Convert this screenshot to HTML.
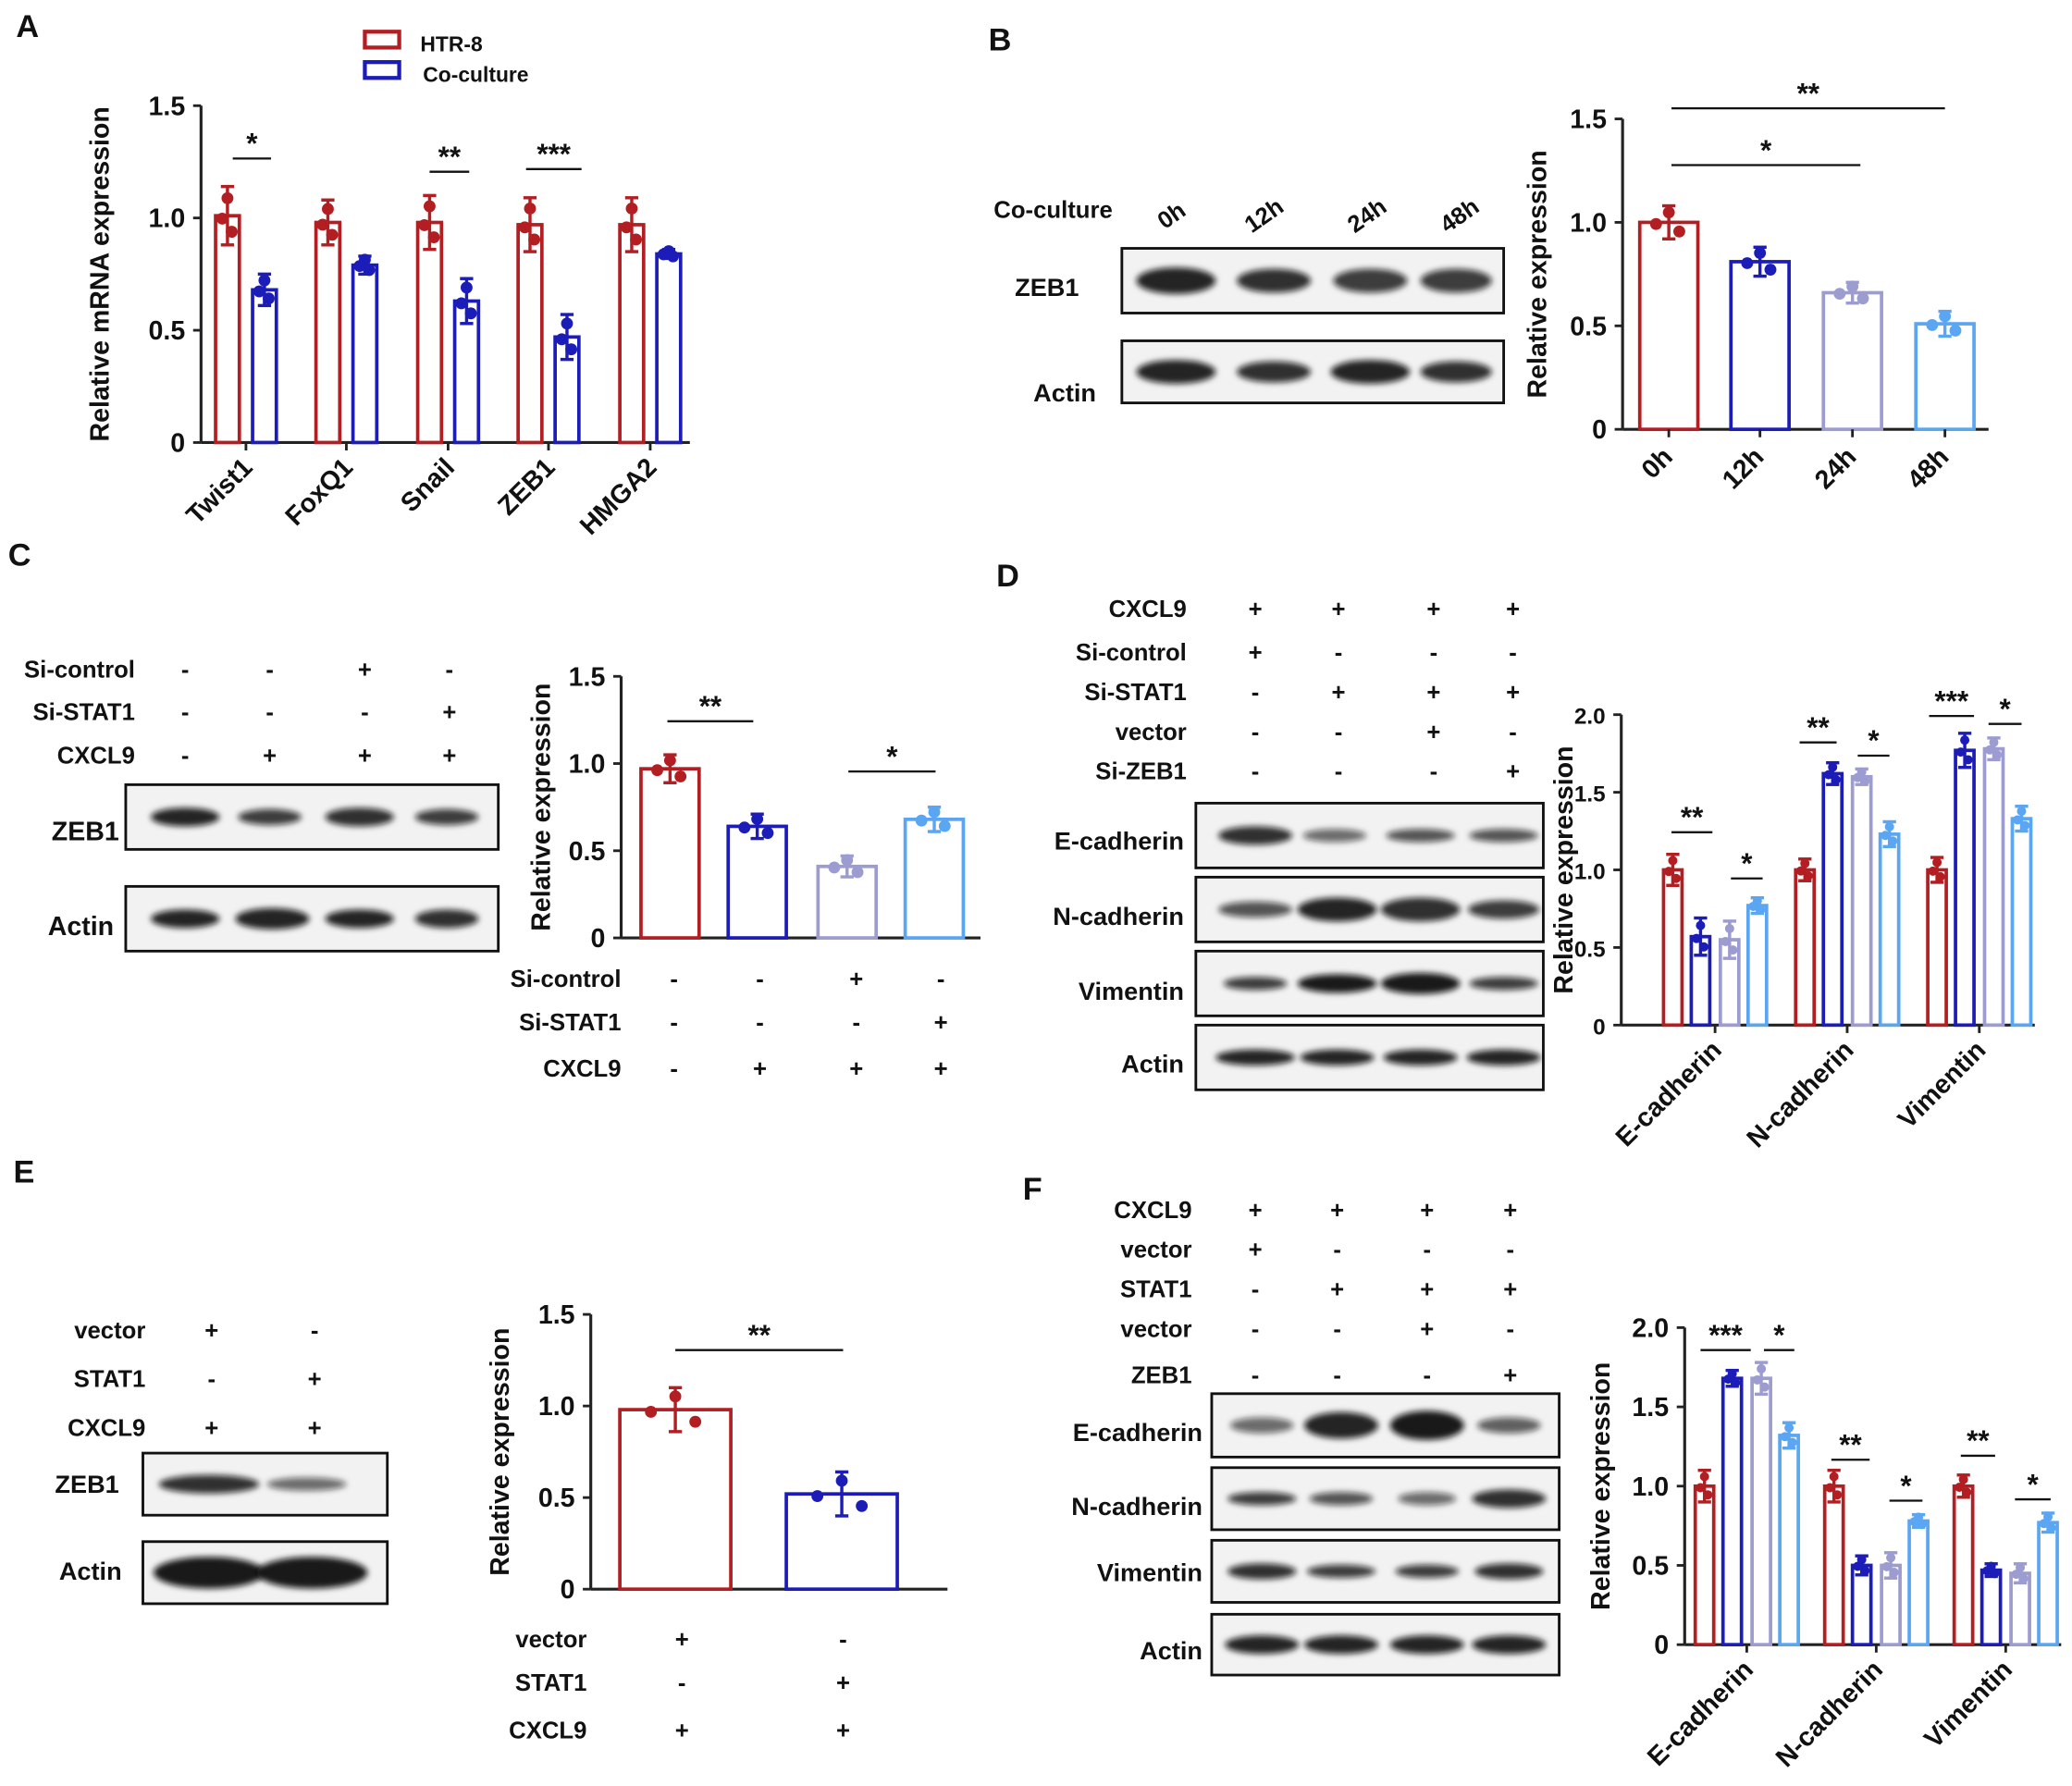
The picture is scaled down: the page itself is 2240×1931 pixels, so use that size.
<!DOCTYPE html>
<html><head><meta charset="utf-8">
<style>
html,body{margin:0;padding:0;background:#fff;}
svg{display:block;}
text{font-family:"Liberation Sans",Arial,sans-serif;font-weight:bold;fill:#111;}
</style></head>
<body>
<svg id="fig" xmlns="http://www.w3.org/2000/svg" width="2240" height="1931" viewBox="0 0 1568 1352">
<defs><filter id="blur" x="-20%" y="-100%" width="140%" height="300%"><feGaussianBlur stdDeviation="2.2"/></filter></defs>
<g id="root"></g>
</svg>
<script>
// ---------- DATA ----------
const aCategories = ["Twist1","FoxQ1","Snail","ZEB1","HMGA2"];
const aHTR8 = [1.01,0.98,0.98,0.97,0.97];
const aHTR8Err = [0.13,0.1,0.12,0.12,0.12];
const aCoculture = [0.68,0.79,0.63,0.47,0.84];
const aCocultureErr = [0.07,0.04,0.1,0.1,0.02];
const aTicks = ["0","0.5","1.0","1.5"];

const bCategories = ["0h","12h","24h","48h"];
const bValues = [1.0,0.81,0.66,0.51];
const bErr = [0.08,0.07,0.05,0.06];
const bTicks = ["0","0.5","1.0","1.5"];

const cValues = [0.97,0.64,0.41,0.68];
const cErr = [0.08,0.07,0.06,0.07];
const cTicks = ["0","0.5","1.0","1.5"];

const dCategories = ["E-cadherin","N-cadherin","Vimentin"];
const dSeries1 = [1.0,1.0,1.0];
const dSeries2 = [0.57,1.62,1.77];
const dSeries3 = [0.55,1.6,1.78];
const dSeries4 = [0.77,1.23,1.33];
const dErr = [[0.1,0.07,0.08],[0.12,0.07,0.11],[0.12,0.05,0.07],[0.05,0.08,0.08]];
const dTicks = ["0","0.5","1.0","1.5","2.0"];

const eValues = [0.98,0.52];
const eErr = [0.12,0.12];
const eTicks = ["0","0.5","1.0","1.5"];

const fCategories = ["E-cadherin","N-cadherin","Vimentin"];
const fSeries1 = [1.0,1.0,1.0];
const fSeries2 = [1.68,0.5,0.47];
const fSeries3 = [1.68,0.5,0.45];
const fSeries4 = [1.32,0.78,0.77];
const fErr = [[0.1,0.1,0.07],[0.05,0.06,0.04],[0.1,0.08,0.06],[0.08,0.04,0.06]];
const fTicks = ["0","0.5","1.0","1.5","2.0"];

const RED="#b21e22", BLUE="#1c1cb8", LAV="#9c9cd0", LBLUE="#5aa6f2";
const NS="http://www.w3.org/2000/svg";
const root=document.getElementById('root');

function el(tag,attrs,parent,txt){
  const e=document.createElementNS(NS,tag);
  for(const k in attrs) e.setAttribute(k,attrs[k]);
  if(txt!==undefined) e.textContent=txt;
  (parent||root).appendChild(e);
  return e;
}
function txt(x,y,s,size,anchor,name,rot){
  const t=el('text',{x:x,y:y,'font-size':size,'text-anchor':anchor||'start'},root,s);
  if(rot!==undefined) t.setAttribute('transform','rotate('+rot+' '+x+' '+y+')');
  
  
  return t;
}
function makeY(y0,yTop,max){return v=>y0-(y0-yTop)*v/max;}
function yAxis(x,y0,yTop,max,ticks,title,titleX,prefix,xEnd,tickSize){
  const ts=tickSize||20;
  const ys=makeY(y0,yTop,max);
  const ax=el('line',{x1:x,y1:y0,x2:x,y2:yTop,stroke:'#222','stroke-width':2.2});
  
  
  const bx=el('line',{x1:x,y1:y0,x2:xEnd,y2:y0,stroke:'#222','stroke-width':2.2});
  
  
  ticks.forEach(t=>{
    const v=parseFloat(t), yy=ys(v);
    el('line',{x1:x-6,y1:yy,x2:x,y2:yy,stroke:'#222','stroke-width':2});
    txt(x-12,yy+7,t,ts,'end',prefix+'-y-tick');
  });
  txt(titleX,(y0+yTop)/2,title,20,'middle',prefix+'-y-axis-title',-90);
  return ys;
}
function bar(cx,w,val,err,color,ys,y0,name){
  const top=ys(val);
  const r=el('rect',{x:cx-w/2,y:top,width:w,height:y0-top,fill:'none',stroke:color,'stroke-width':2.6});
  
  
  const ye=ys(val+err);
  el('line',{x1:cx,y1:top,x2:cx,y2:ye,stroke:color,'stroke-width':2.4});
  el('line',{x1:cx-5,y1:ye,x2:cx+5,y2:ye,stroke:color,'stroke-width':2.4});
  const yl=ys(val-err);
  el('line',{x1:cx,y1:top,x2:cx,y2:yl,stroke:color,'stroke-width':2.4});
  el('line',{x1:cx-5,y1:yl,x2:cx+5,y2:yl,stroke:color,'stroke-width':2.4});
  const rr=Math.min(4.5,w/4);
  el('circle',{cx:cx,cy:ys(val+err*0.6),r:rr,fill:color});
  el('circle',{cx:cx-w*0.22,cy:ys(val-err*0.1),r:rr,fill:color});
  el('circle',{cx:cx+w*0.18,cy:ys(val-err*0.55),r:rr,fill:color});
}
function sig(x1,x2,y,s,name){
  const l=el('line',{x1:x1,y1:y,x2:x2,y2:y,stroke:'#111','stroke-width':1.6});
  
  
  txt((x1+x2)/2,y-4,s,22,'middle',name);
}
function blot(x,y,w,h,bands,name){
  const g=el('g',{});
  
  
  el('rect',{x:x,y:y,width:w,height:h,fill:'#f2f2f2',stroke:'#111','stroke-width':2},g);
  bands.forEach(b=>{
    el('ellipse',{cx:b[0],cy:y+h/2,rx:b[1],ry:b[2],fill:'#111','fill-opacity':b[3],filter:'url(#blur)'},g);
  });
}
function signRows(labels,rows,cols,labelX,fs,prefix){
  labels.forEach((lab,i)=>{
    txt(labelX,rows[i]+7,lab,fs,'end',prefix+'-label-'+lab.toLowerCase());
    cols.forEach((cx,j)=>{ txt(cx,rows[i]+7,rowsSigns[prefix][i][j],fs,'middle',prefix+'-sign'); });
  });
}
const rowsSigns={
  cblot:[["-","-","+","-"],["-","-","-","+"],["-","+","+","+"]],
  cchart:[["-","-","+","-"],["-","-","-","+"],["-","+","+","+"]],
  dblot:[["+","+","+","+"],["+","-","-","-"],["-","+","+","+"],["-","-","+","-"],["-","-","-","+"]],
  eblot:[["+","-"],["-","+"],["+","+"]],
  echart:[["+","-"],["-","+"],["+","+"]],
  fblot:[["+","+","+","+"],["+","-","-","-"],["-","+","+","+"],["-","-","+","-"],["-","-","-","+"]]
};

[["A",12,28],["B",748,38],["C",6,428],["D",754,444],["E",10,895],["F",774,908]].forEach(p=>txt(p[1],p[2],p[0],24,'start','panel-label-'+p[0].toLowerCase()));

// ---------- PANEL A ----------
(function(){
  const y0=335, ys=yAxis(152,y0,80,1.5,aTicks,"Relative mRNA expression",82,'a',522);
  const centers=[186,262,339,415,492];
  aCategories.forEach((c,i)=>{
    bar(centers[i]-14,18,aHTR8[i],aHTR8Err[i],RED,ys,y0,'a-bar-htr8-'+c.toLowerCase());
    bar(centers[i]+14,18,aCoculture[i],aCocultureErr[i],BLUE,ys,y0,'a-bar-coculture-'+c.toLowerCase());
    el('line',{x1:centers[i],y1:y0,x2:centers[i],y2:y0+6,stroke:'#222','stroke-width':2});
    txt(centers[i]+6,y0+20,c,20,'end','a-x-label',-45);
  });
  sig(176,205,120,"*",'a-sig-twist1');
  sig(325,355,130,"**",'a-sig-snail');
  sig(398,440,128,"***",'a-sig-zeb1');
  const l1=el('rect',{x:276,y:24,width:26,height:12,fill:'none',stroke:RED,'stroke-width':3});
  
  
  const l2=el('rect',{x:276,y:47,width:26,height:12,fill:'none',stroke:BLUE,'stroke-width':3});
  
  
  txt(318,39,"HTR-8",16,'start','legend-entry-htr8');
  txt(320,62,"Co-culture",16,'start','legend-entry-coculture');
})();

// ---------- PANEL B ----------
(function(){
  txt(752,165,"Co-culture",18,'start','b-coculture-label');
  [["0h",890],["12h",960],["24h",1038],["48h",1108]].forEach(p=>txt(p[1],168,p[0],18,'middle','b-lane-label',-35));
  txt(768,224,"ZEB1",19,'start','b-zeb1-label');
  txt(782,304,"Actin",19,'start','b-actin-label');
  blot(849,188,289,49,[[890,30,10,0.9],[964,28,9,0.85],[1037,28,9,0.8],[1102,27,9,0.8]],'b-zeb1-blot');
  blot(849,258,289,47,[[890,30,9,0.9],[964,28,8,0.85],[1037,30,9,0.9],[1102,27,8,0.85]],'b-actin-blot');
  const y0=325, ys=yAxis(1228,y0,90,1.5,bTicks,"Relative expression",1170,'b',1505);
  const xs=[1263,1332,1402,1472], cols=[RED,BLUE,LAV,LBLUE];
  bCategories.forEach((c,i)=>{
    bar(xs[i],44,bValues[i],bErr[i],cols[i],ys,y0,'b-bar-'+c);
    el('line',{x1:xs[i],y1:y0,x2:xs[i],y2:y0+6,stroke:'#222','stroke-width':2});
    txt(xs[i]+4,y0+22,c,20,'end','b-x-label',-45);
  });
  sig(1265,1472,82,"**",'b-sig-48h');
  sig(1265,1408,125,"*",'b-sig-24h');
})();

// ---------- PANEL C ----------
(function(){
  const cols=[140,204,276,340], rows=[506,538,571];
  signRows(["Si-control","Si-STAT1","CXCL9"],rows,cols,102,18,'cblot');
  txt(90,636,"ZEB1",20,'end','c-zeb1-label');
  txt(86,708,"Actin",20,'end','c-actin-label');
  blot(95,594,282,49,[[140,26,7,0.9],[204,24,6,0.8],[272,26,7,0.85],[338,24,6,0.8]],'c-zeb1-blot');
  blot(95,671,282,49,[[140,26,7,0.9],[206,28,8,0.9],[272,26,7,0.9],[338,24,7,0.85]],'c-actin-blot');
  const y0=710, ys=yAxis(470,y0,512,1.5,cTicks,"Relative expression",416,'c',742);
  const xs=[507,573,641,707], cc=[RED,BLUE,LAV,LBLUE];
  cValues.forEach((v,i)=>{ bar(xs[i],44,v,cErr[i],cc[i],ys,y0,'c-bar-'+(i+1)); });
  sig(505,570,546,"**",'c-sig-1');
  sig(642,708,584,"*",'c-sig-2');
  signRows(["Si-control","Si-STAT1","CXCL9"],[740,773,808],[510,575,648,712],470,18,'cchart');
})();

// ---------- PANEL D ----------
(function(){
  signRows(["CXCL9","Si-control","Si-STAT1","vector","Si-ZEB1"],[460,493,523,553,583],[950,1013,1085,1145],898,18,'dblot');
  const labs=[["E-cadherin",637],["N-cadherin",694],["Vimentin",751],["Actin",806]];
  labs.forEach(l=>txt(896,l[1]+6,l[0],19,'end','d-'+l[0].toLowerCase()+'-label'));
  blot(905,608,263,49,[[950,28,7,0.85],[1010,24,5,0.6],[1075,26,5,0.7],[1138,26,5,0.7]],'d-ecadherin-blot');
  blot(905,664,263,49,[[950,28,6,0.7],[1012,30,9,0.9],[1075,30,9,0.85],[1138,27,7,0.8]],'d-ncadherin-blot');
  blot(905,720,263,49,[[950,24,5,0.8],[1012,30,7,0.95],[1075,30,8,0.95],[1138,26,5,0.8]],'d-vimentin-blot');
  blot(905,776,263,49,[[950,30,6,0.9],[1012,28,6,0.9],[1075,28,6,0.9],[1138,28,6,0.9]],'d-actin-blot');
  const y0=776, ys=yAxis(1227,y0,541,2.0,dTicks,"Relative expression",1190,'d',1540,17);
  const centers=[1298,1398,1498], off=[-32,-11,11,32], cc=[RED,BLUE,LAV,LBLUE];
  const series=[dSeries1,dSeries2,dSeries3,dSeries4];
  dCategories.forEach((c,i)=>{
    series.forEach((s,k)=>bar(centers[i]+off[k],14,s[i],dErr[k][i],cc[k],ys,y0,'d-bar-'+c.toLowerCase()+'-'+(k+1)));
    el('line',{x1:centers[i],y1:y0,x2:centers[i],y2:y0+6,stroke:'#222','stroke-width':2});
    txt(centers[i]+6,y0+20,c,20,'end','d-x-label',-45);
  });
  sig(1265,1296,630,"**",'d-sig-e1'); sig(1310,1334,665,"*",'d-sig-e2');
  sig(1362,1390,562,"**",'d-sig-n1'); sig(1406,1430,572,"*",'d-sig-n2');
  sig(1460,1494,542,"***",'d-sig-v1'); sig(1505,1530,548,"*",'d-sig-v2');
})();

// ---------- PANEL E ----------
(function(){
  signRows(["vector","STAT1","CXCL9"],[1006,1043,1080],[160,238],110,18,'eblot');
  txt(90,1130,"ZEB1",19,'end','e-zeb1-label');
  txt(92,1196,"Actin",19,'end','e-actin-label');
  blot(108,1100,185,47,[[158,38,7,0.85],[232,30,5,0.6]],'e-zeb1-blot');
  blot(108,1167,185,47,[[158,42,12,0.95],[236,42,12,0.95]],'e-actin-blot');
  const y0=1203, ys=yAxis(447,y0,995,1.5,eTicks,"Relative expression",385,'e',717);
  const xs=[511,637], cc=[RED,BLUE];
  eValues.forEach((v,i)=>bar(xs[i],84,v,eErr[i],cc[i],ys,y0,'e-bar-'+(i+1)));
  sig(511,638,1022,"**",'e-sig');
  signRows(["vector","STAT1","CXCL9"],[1240,1273,1309],[516,638],444,18,'echart');
})();

// ---------- PANEL F ----------
(function(){
  signRows(["CXCL9","vector","STAT1","vector","ZEB1"],[915,945,975,1005,1040],[950,1012,1080,1143],902,18,'fblot');
  const labs=[["E-cadherin",1085],["N-cadherin",1141],["Vimentin",1191],["Actin",1250]];
  labs.forEach(l=>txt(910,l[1]+6,l[0],19,'end','f-'+l[0].toLowerCase()+'-label'));
  blot(917,1055,263,48,[[955,24,6,0.6],[1015,28,10,0.9],[1080,28,11,0.95],[1142,24,6,0.65]],'f-ecadherin-blot');
  blot(917,1111,263,47,[[955,26,5,0.8],[1015,24,5,0.7],[1080,22,5,0.6],[1142,28,7,0.85]],'f-ncadherin-blot');
  blot(917,1166,263,47,[[955,26,6,0.85],[1015,26,5,0.8],[1080,24,5,0.8],[1142,26,6,0.85]],'f-vimentin-blot');
  blot(917,1222,263,46,[[955,28,7,0.9],[1015,28,7,0.9],[1080,28,7,0.9],[1142,28,7,0.9]],'f-actin-blot');
  const y0=1245, ys=yAxis(1275,y0,1005,2.0,fTicks,"Relative expression",1218,'f',1560);
  const centers=[1322,1420,1518], off=[-32,-11,11,32], cc=[RED,BLUE,LAV,LBLUE];
  const series=[fSeries1,fSeries2,fSeries3,fSeries4];
  fCategories.forEach((c,i)=>{
    series.forEach((s,k)=>bar(centers[i]+off[k],14,s[i],fErr[k][i],cc[k],ys,y0,'f-bar-'+c.toLowerCase()+'-'+(k+1)));
    el('line',{x1:centers[i],y1:y0,x2:centers[i],y2:y0+6,stroke:'#222','stroke-width':2});
    txt(centers[i]+6,y0+20,c,20,'end','f-x-label',-45);
  });
  sig(1287,1325,1022,"***",'f-sig-e1'); sig(1335,1358,1022,"*",'f-sig-e2');
  sig(1386,1415,1105,"**",'f-sig-n1'); sig(1430,1455,1136,"*",'f-sig-n2');
  sig(1484,1510,1102,"**",'f-sig-v1'); sig(1525,1552,1135,"*",'f-sig-v2');
})();
</script>
</body></html>
